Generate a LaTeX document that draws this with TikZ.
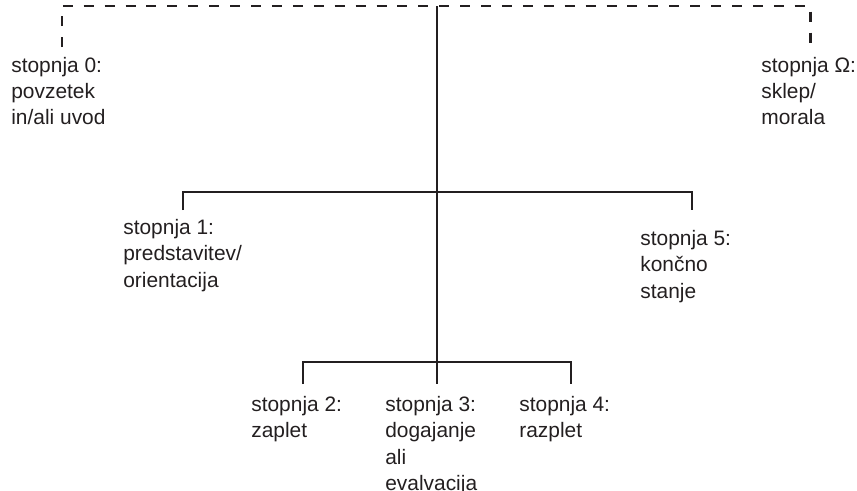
\documentclass[tikz,border=0pt]{standalone}
\usepackage{fontspec}
\setmainfont{Liberation Sans}
\usepackage{tikz}
\definecolor{ink}{RGB}{35,31,32}

\begin{document}
\begin{tikzpicture}[
    tree/.style={-,line width=1.7pt,ink},
    dashtree/.style={-,line width=1.7pt,ink,dash pattern=on 5.7pt off 6.2pt},
    stage/.style={anchor=north west,inner sep=0pt,align=left,text=ink,
        font=\fontsize{11.9}{15}\selectfont}
  ]
            \useasboundingbox (0,0) rectangle (17.14,9.8);
            % Branch points
            \coordinate (top) at (8.74,9.68);
            \coordinate (bot) at (8.74,2.12);
            \coordinate (mid) at (8.74,5.96);
            \coordinate (low) at (8.74,2.56);
            \coordinate (d0) at (1.24,8.86);
            \coordinate (dO) at (16.2,8.86);
            \coordinate (b1) at (3.66,5.6);
            \coordinate (b5) at (13.84,5.6);
            \coordinate (b2) at (6.06,2.12);
            \coordinate (b4) at (11.42,2.12);
            % Draw lines
            \draw[dashtree] (d0) |- (top) -| (dO);
            \draw[tree] (top) -- (bot);
            \draw[tree] (b1) |- (mid) -| (b5);
            \draw[tree] (b2) |- (low) -| (b4);
            % Label stages
            \node[stage] (s0) at (0.22,8.67) {stopnja 0:\\povzetek\\in/ali uvod};
            \node[stage] (sO) at (15.22,8.67) {stopnja Ω:\\sklep/\\morala};
            \node[stage] (s1) at (2.46,5.42) {stopnja 1:\\predstavitev/\\orientacija};
            \node[stage] (s5) at (12.8,5.2) {stopnja 5:\\končno\\stanje};
            \node[stage] (s2) at (5.02,1.88) {stopnja 2:\\zaplet};
            \node[stage] (s3) at (7.70,1.88) {stopnja 3:\\dogajanje\\ali\\evalvacija};
            \node[stage] (s4) at (10.38,1.88) {stopnja 4:\\razplet};
        \end{tikzpicture}
\end{document}
